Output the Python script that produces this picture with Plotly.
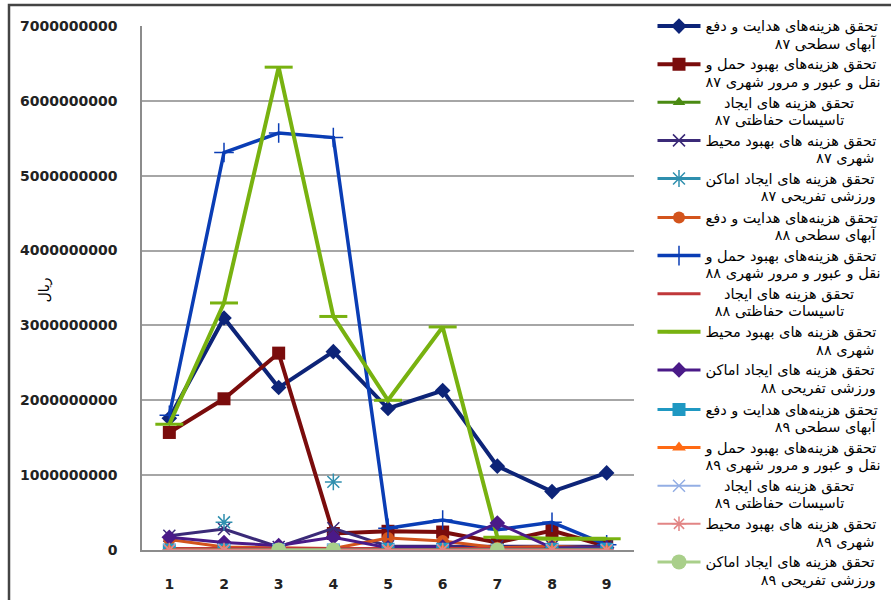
import plotly.graph_objects as go

x_vals = [1, 2, 3, 4, 5, 6, 7, 8, 9]

# label parts: first line, second line (Persian)
line1 = [
    "تحقق هزینه‌های هدایت و دفع",
    "تحقق هزینه‌های بهبود حمل و",
    "تحقق هزینه های ایجاد",
    "تحقق هزینه های بهبود محیط",
    "تحقق هزینه های ایجاد اماکن",
]
line2 = [
    "آبهای سطحی",
    "نقل و عبور و مرور شهری",
    "تاسیسات حفاظتی",
    "شهری",
    "ورزشی تفریحی",
]
years = ["۸۷", "۸۸", "۸۹"]

hedayat_87 = [1760000000, 3100000000, 2170000000, 2650000000, 1890000000, 2130000000, 1120000000, 780000000, 1030000000]
haml_87 = [1570000000, 2020000000, 2630000000, 220000000, 250000000, 240000000, 100000000, 260000000, 50000000]
tasisat_87 = [20000000, 10000000, 0, 20000000, 0, 0, 0, 0, 0]
mohit_87 = [190000000, 280000000, 40000000, 290000000, 50000000, 50000000, 50000000, 50000000, 50000000]
amaken_87 = [None, 370000000, None, 910000000, None, None, None, None, None]
hedayat_88 = [140000000, 40000000, 30000000, 20000000, 160000000, 120000000, 30000000, 50000000, 20000000]
haml_88 = [1800000000, 5310000000, 5570000000, 5510000000, 290000000, 400000000, 270000000, 370000000, 70000000]
tasisat_88 = [20000000, 20000000, 20000000, 20000000, 20000000, 20000000, 20000000, 20000000, 20000000]
mohit_88 = [1680000000, 3300000000, 6450000000, 3120000000, 2000000000, 2980000000, 170000000, 150000000, 150000000]
amaken_88 = [170000000, 100000000, 60000000, 170000000, 30000000, 40000000, 360000000, 30000000, 30000000]
hedayat_89 = [0, 0, 0, 0, 10000000, 10000000, 0, 10000000, 10000000]
haml_89 = [0, 0, 0, 0, 0, 0, 0, 0, 0]
tasisat_89 = [0, 0, 0, 0, 0, 0, 0, 0, 0]
mohit_89 = [0, 0, 0, 0, 0, 0, 0, 0, 0]
amaken_89 = [None, None, 0, 0, None, None, 0, None, None]

series = [hedayat_87, haml_87, tasisat_87, mohit_87, amaken_87,
          hedayat_88, haml_88, tasisat_88, mohit_88, amaken_88,
          hedayat_89, haml_89, tasisat_89, mohit_89, amaken_89]

y_ticks = [0, 1000000000, 2000000000, 3000000000, 4000000000, 5000000000, 6000000000, 7000000000]
y_title = "ریال"

# visual padding (non-breaking spaces) to right-align the label lines
pad2 = [15, 0, 2, 24, 12]
pad1 = [0, 0, 4, 0, 0]

def make_label(i):
    k = i % 5
    y = years[i // 5]
    a = "\u00a0" * pad1[k] + line1[k]
    b = "\u00a0" * pad2[k] + line2[k] + " " + y
    sp = '<span style="font-size:14.5px">'
    return sp + a + "</span><br>" + sp + b + "</span>"

styles = [
    dict(color="#0d2478", symbol="diamond", size=12, width=4, lw=0),
    dict(color="#7a0c0c", symbol="square", size=13, width=4, lw=0),
    dict(color="#4a8a12", symbol="triangle-up", size=11, width=3, lw=0),
    dict(color="#3b2a78", symbol="x-thin", size=12, width=3, lw=1.5),
    dict(color="#2f8fae", symbol="asterisk", size=14, width=3, lw=1.5),
    dict(color="#d3541c", symbol="circle", size=12, width=3, lw=0),
    dict(color="#0a3db5", symbol="cross-thin", size=14, width=3.5, lw=1.5),
    dict(color="#c0383a", symbol=None, size=0, width=3, lw=0),
    dict(color="#78b210", symbol="line-ew", size=20, width=4, lw=3),
    dict(color="#4a1a88", symbol="diamond", size=12, width=3, lw=0),
    dict(color="#1f98c2", symbol="square", size=13, width=3, lw=0),
    dict(color="#ff6a13", symbol="triangle-up", size=12, width=3, lw=0),
    dict(color="#93aee4", symbol="x-thin", size=12, width=2, lw=1.5),
    dict(color="#e28585", symbol="asterisk", size=12, width=2, lw=1.5),
    dict(color="#a9cf8a", symbol="circle", size=15, width=3, lw=0),
]

legend_ids = ["legend", "legend2", "legend3"]

fig = go.Figure()
for i, (vals, st) in enumerate(zip(series, styles)):
    if st["symbol"] is None:
        mode = "lines"
        marker = None
    else:
        mode = "lines+markers"
        marker = dict(symbol=st["symbol"], size=st["size"], color=st["color"],
                      line=dict(color=st["color"], width=st["lw"]))
    fig.add_trace(go.Scatter(
        x=x_vals, y=vals, name=make_label(i), mode=mode,
        line=dict(color=st["color"], width=st["width"]),
        marker=marker, connectgaps=False,
        legend=legend_ids[i // 5],
    ))

legend_common = dict(
    xref="paper", yref="container", xanchor="left", yanchor="top",
    font=dict(family="DejaVu Sans", size=13.5, color="black"),
    valign="top", bgcolor="rgba(0,0,0,0)", itemwidth=43,
)

fig.update_layout(
    width=891, height=600,
    paper_bgcolor="white", plot_bgcolor="white",
    margin=dict(l=142, r=257, t=26, b=50, autoexpand=False),
    font=dict(family="DejaVu Sans", color="black"),
    showlegend=True,
    legend=dict(x=1.0376, y=0.982, **legend_common),
    legend2=dict(x=1.0376, y=0.663, **legend_common),
    legend3=dict(x=1.0376, y=0.343, **legend_common),
    xaxis=dict(
        range=[0.5, 9.5], tickmode="array", tickvals=x_vals,
        ticktext=[str(v) for v in x_vals],
        showgrid=False, zeroline=False,
        showline=True, linecolor="#8c8c8c", linewidth=1.5,
        tickfont=dict(family="DejaVu Sans", size=14, color="#222", weight="bold"),
        ticks="", ticklabelstandoff=20, automargin=False,
    ),
    yaxis=dict(
        range=[0, 7000000000], tickmode="array", tickvals=y_ticks,
        ticktext=[str(v) for v in y_ticks],
        showgrid=True, gridcolor="#a6a6a6", gridwidth=1.5,
        zeroline=False,
        showline=True, linecolor="#8c8c8c", linewidth=1.5,
        tickfont=dict(family="DejaVu Sans", size=14, color="#222", weight="bold"),
        ticks="", ticklabelstandoff=20, automargin=False,
    ),
    shapes=[dict(
        type="rect", xref="paper", yref="paper",
        x0=(9 - 142) / 492, x1=(900 - 142) / 492,
        y0=(550 - 610) / 524, y1=(550 - 5) / 524,
        line=dict(color="#444", width=2.5), fillcolor="rgba(0,0,0,0)",
    )],
    annotations=[dict(
        text=y_title, xref="paper", yref="paper",
        x=(33 - 142) / 492, y=(550 - 290) / 524,
        showarrow=False, textangle=-90,
        font=dict(family="DejaVu Sans", size=14, color="black"),
    )],
)

fig.write_html("out.html")
